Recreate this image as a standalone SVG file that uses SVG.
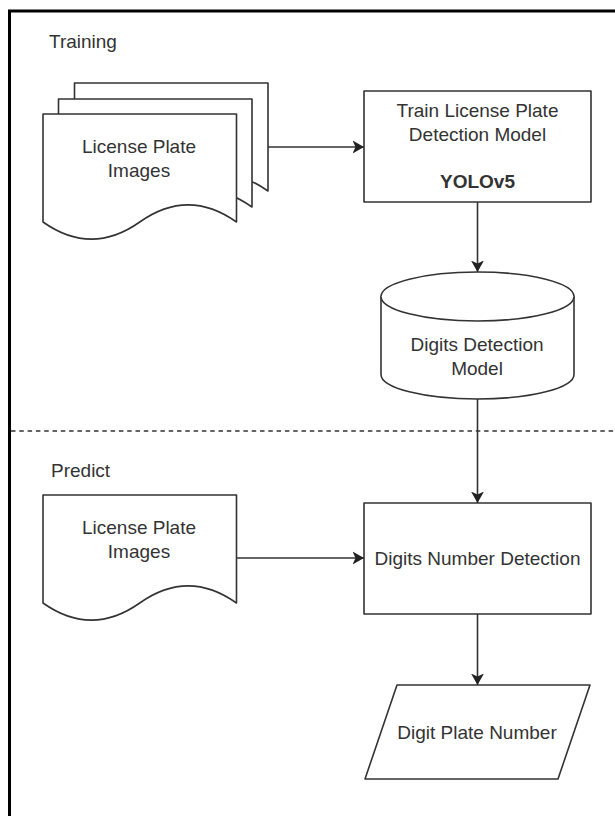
<svg xmlns="http://www.w3.org/2000/svg" width="615" height="816" viewBox="0 0 615 816">
<defs>
<style>
.shape{fill:#fff;stroke:#333;stroke-width:1.6;stroke-linejoin:round}
.conn{fill:none;stroke:#333;stroke-width:1.6}
.t{font-family:"Liberation Sans",Arial,sans-serif;font-size:19px;fill:#333;text-anchor:middle}
.lbl{font-family:"Liberation Sans",Arial,sans-serif;font-size:19px;fill:#333}
.b{font-weight:bold}
</style>
<marker id="arr" markerUnits="userSpaceOnUse" markerWidth="12" markerHeight="14" viewBox="0 0 12 14" refX="11.5" refY="7" orient="auto">
<path d="M0,0.5 L11.5,7 L0,13.5 L3,7 Z" fill="#222" stroke="none"/>
</marker>
</defs>
<rect width="615" height="816" fill="#fff"/>
<path d="M9.5,830 V11 H630" fill="none" stroke="#000" stroke-width="3"/>
<text class="lbl" x="49" y="48">Training</text>
<text class="lbl" x="51" y="477">Predict</text>
<line x1="11" y1="431" x2="615" y2="431" stroke="#333" stroke-width="1.6" stroke-dasharray="4.5 3.8"/>
<g id="connectors">
<line class="conn" x1="268" y1="147" x2="364" y2="147" marker-end="url(#arr)"/>
<line class="conn" x1="477.5" y1="202" x2="477.5" y2="272" marker-end="url(#arr)"/>
<line class="conn" x1="477.5" y1="399" x2="477.5" y2="503" marker-end="url(#arr)"/>
<line class="conn" x1="236.5" y1="558" x2="364" y2="558" marker-end="url(#arr)"/>
<line class="conn" x1="477.5" y1="614" x2="477.5" y2="685" marker-end="url(#arr)"/>
</g>
<g id="train-images">
<path class="shape" d="M74.5,83 H268 V191 Q219.6,156.7 171.25,191 Q122.9,225.2 74.5,191 Z"/>
<path class="shape" d="M58.5,99 H252 V207 Q203.6,172.7 155.25,207 Q106.9,241.2 58.5,207 Z"/>
<path class="shape" d="M43,114 H236.5 V222 Q188.1,187.7 139.75,222 Q91.4,256.2 43,222 Z"/>
<text class="t" x="139" y="153">License Plate</text>
<text class="t" x="139" y="177">Images</text>
</g>
<g id="train-model">
<rect class="shape" x="364" y="91" width="227" height="111"/>
<text class="t" x="477.5" y="117">Train License Plate</text>
<text class="t" x="477.5" y="141">Detection Model</text>
<text class="t b" x="477.5" y="188">YOLOv5</text>
</g>
<g id="digits-model">
<path class="shape" d="M381,296.5 A96.5,24.5 0 0 1 574,296.5 V374.5 A96.5,24.5 0 0 1 381,374.5 Z"/>
<path class="shape" fill="none" d="M381,296.5 A96.5,24.5 0 0 0 574,296.5"/>
<text class="t" x="477" y="351">Digits Detection</text>
<text class="t" x="477" y="375">Model</text>
</g>
<g id="predict-images">
<path class="shape" d="M43,495 H236.5 V603 Q188.1,568.7 139.75,603 Q91.4,637.2 43,603 Z"/>
<text class="t" x="139" y="534">License Plate</text>
<text class="t" x="139" y="558">Images</text>
</g>
<g id="digits-number-detection">
<rect class="shape" x="364" y="503" width="227" height="111"/>
<text class="t" x="477.5" y="565">Digits Number Detection</text>
</g>
<g id="digit-plate-number">
<path class="shape" d="M397,685 H590 L558,779 H365 Z"/>
<text class="t" x="477" y="739">Digit Plate Number</text>
</g>
</svg>
